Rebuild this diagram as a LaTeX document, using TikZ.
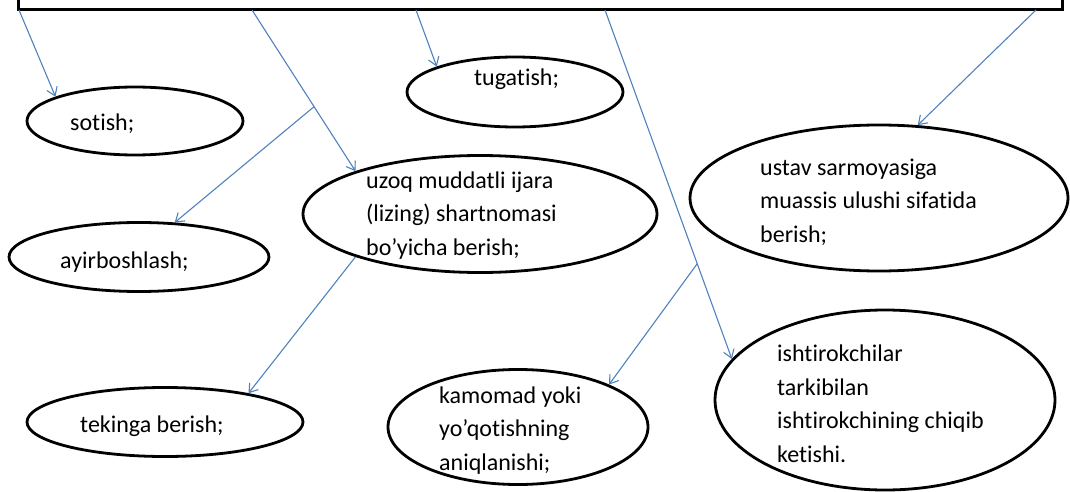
\documentclass[tikz,border=0pt]{standalone}
\usepackage{fontspec}
\setmainfont{Carlito}[Ligatures=NoCommon]
\usetikzlibrary{shapes.geometric,arrows.meta,calc}
\definecolor{linkblue}{RGB}{79,129,189}

\begin{document}
\begin{tikzpicture}[x=1pt,y=-1pt,
  oval/.style={draw, line width=2.8pt, ellipse, inner sep=0pt},
  lbl/.style={anchor=base west, align=left, inner sep=0pt,
              font=\fontsize{24}{33.5}\selectfont},
  link/.style={draw=linkblue, line width=1.1pt,
               -{Straight Barb[length=8pt,width=11pt]}}]

\clip (0,0) rectangle (1070,492);

% heading box (only its lower edge is on the page)
\node[draw, line width=3pt, minimum width=1044pt, minimum height=60pt,
      inner sep=0pt] (head) at (540,-20) {};

% outlines
\node[oval, minimum width=216pt, minimum height=68pt]  (sotish) at (135,121) {};
\node[oval, minimum width=216pt, minimum height=70pt]  (tugat)  at (515,92)  {};
\node[oval, minimum width=260pt, minimum height=69pt]  (ayir)   at (139,257) {};
\node[oval, minimum width=354pt, minimum height=117pt] (uzoq)   at (480,214) {};
\node[oval, minimum width=378pt, minimum height=146pt] (ustav)  at (879,198) {};
\node[oval, minimum width=276pt, minimum height=69pt]  (tekin)  at (165,422) {};
\node[oval, minimum width=260pt, minimum height=115pt] (kamo)   at (518,427) {};
\node[oval, minimum width=340pt, minimum height=180pt] (ishtir) at (885,400) {};

% texts (anchored at the baseline of the last line)
\node[lbl] (tsotish) at (70,131)  {sotish;};
\node[lbl] (ttugat)  at (474,86)  {tugatish;};
\node[lbl] (tayir)   at (60,268)  {ayirboshlash;};
\node[lbl] (tuzoq)   at (366,255) {uzoq muddatli ijara\\(lizing) shartnomasi\\bo’yicha berish;};
\node[lbl] (tustav)  at (760,242) {ustav sarmoyasiga\\muassis ulushi sifatida\\berish;};
\node[lbl] (ttekin)  at (80,432)  {tekinga berish;};
\node[lbl] (tkamo)   at (439,470) {kamomad yoki\\yo’qotishning\\aniqlanishi;};
\node[lbl] (tishtir) at (777,462) {ishtirokchilar\\tarkibilan\\ishtirokchining chiqib\\ketishi.};

% start points on the heading box
\coordinate (h1) at (19,10);
\coordinate (h2) at (252,10);
\coordinate (h3) at (416,10);
\coordinate (h4) at (605,10);
\coordinate (h5) at (1036,10);

% connectors
\draw[link] (h1) -- (sotish.163);
\draw[link] (h2) -- (uzoq.161);
\coordinate (b1) at ($(h2)!0.6!(uzoq.161)$);
\draw[link] (b1) -- (ayir.44);
\draw[link] (h3) -- (tugat.162);
\draw[link] (h4) -- (ishtir.165);
\coordinate (b2) at ($(h4)!0.727!(ishtir.165)$);
\draw[link] (b2) -- (kamo.25);
\draw[link] (h5) -- (ustav.62);
\draw[link] (uzoq.199) -- (tekin.19);
\end{tikzpicture}
\end{document}
